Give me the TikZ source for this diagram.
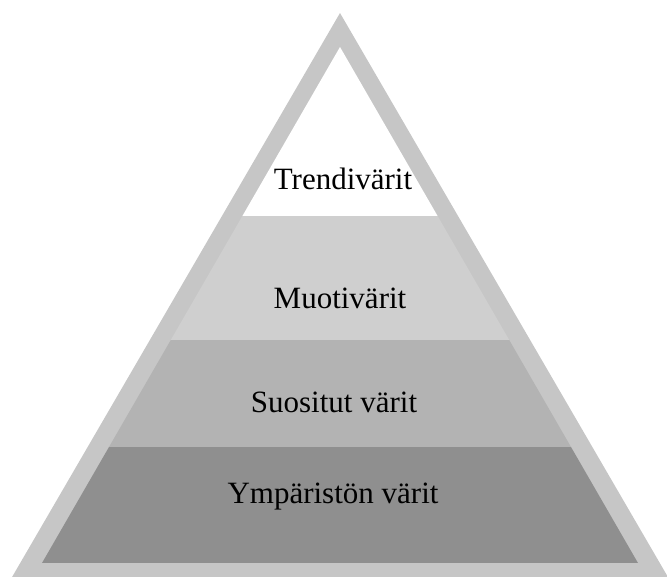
\documentclass[tikz,border=0pt]{standalone}
\usepackage{fontspec}
\setmainfont{Liberation Serif}
\definecolor{framegray}{HTML}{C6C6C6}
\definecolor{lay1}{HTML}{FFFFFF}
\definecolor{lay2}{HTML}{CFCFCF}
\definecolor{lay3}{HTML}{B3B3B3}
\definecolor{lay4}{HTML}{8F8F8F}
\tikzset{
  lbl/.style={anchor=base, font=\fontsize{31}{36}\selectfont, text=black, inner sep=0pt},
}
\begin{document}
\begin{tikzpicture}[x=1pt,y=-1pt]
\useasboundingbox (0,0) rectangle (667,576);
% outer frame
\fill[framegray] (340,13) -- (8,584) -- (672,584) -- cycle;
% inner layers
\begin{scope}
\clip (340,47) -- (42,563) -- (638,563) -- cycle;
\fill[lay1] (0,0) rectangle (667,216);
\fill[lay2] (0,216) rectangle (667,340);
\fill[lay3] (0,340) rectangle (667,447);
\fill[lay4] (0,447) rectangle (667,563);
\end{scope}
\node[lbl] (t1) at (343,189) {Trendivärit};
\node[lbl] (t2) at (340,308) {Muotivärit};
\node[lbl] (t3) at (334,412) {Suositut värit};
\node[lbl] (t4) at (333,503) {Ympäristön värit};
\end{tikzpicture}
\end{document}
